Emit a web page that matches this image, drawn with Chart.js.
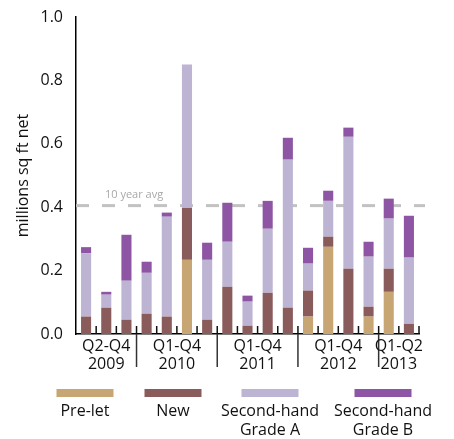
<!DOCTYPE html>
<html>
<head>
    <script src="https://cdn.jsdelivr.net/npm/chart.js"></script>
    <style>
        body { margin: 0; background: #fff; }
    </style>
</head>
<body>
    <canvas id="chart" width="454" height="439"></canvas>
<script>
    // quarterly take-up, millions sq ft net
    var quarters = ['Q2 2009', 'Q3 2009', 'Q4 2009',
        'Q1 2010', 'Q2 2010', 'Q3 2010', 'Q4 2010',
        'Q1 2011', 'Q2 2011', 'Q3 2011', 'Q4 2011',
        'Q1 2012', 'Q2 2012', 'Q3 2012', 'Q4 2012',
        'Q1 2013', 'Q2 2013'];
    var preLet   = [0, 0, 0, 0, 0, 0.234, 0, 0, 0, 0, 0, 0.055, 0.275, 0, 0.055, 0.133, 0];
    var newBuild = [0.055, 0.083, 0.045, 0.064, 0.055, 0.164, 0.045, 0.149, 0.026, 0.130, 0.083, 0.082, 0.032, 0.206, 0.031, 0.073, 0.032];
    var gradeA   = [0.200, 0.041, 0.123, 0.129, 0.315, 0.452, 0.189, 0.142, 0.076, 0.202, 0.467, 0.085, 0.113, 0.416, 0.158, 0.158, 0.209];
    var gradeB   = [0.019, 0.009, 0.145, 0.035, 0.013, 0, 0.054, 0.123, 0.019, 0.088, 0.069, 0.050, 0.032, 0.029, 0.047, 0.063, 0.132];

    var seriesNames = [['Pre-let'], ['New'], ['Second-hand', 'Grade A'], ['Second-hand', 'Grade B']];
    var seriesColors = ['#c8a673', '#8a5b5b', '#bdb3d2', '#8e55a4'];

    var yearLabels = [['Q2-Q4', '2009'], ['Q1-Q4', '2010'], ['Q1-Q4', '2011'], ['Q1-Q4', '2012'], ['Q1-Q2', '2013']];
    var yearSizes = [3, 4, 4, 4, 2];
    var avgValue = 0.405;

    var FONT = "'Open Sans', sans-serif";
    var INK = '#111';

    var extras = {
        id: 'extras',
        beforeDatasetsDraw: function (chart) {
            var ctx = chart.ctx, y = chart.scales.y, a = chart.chartArea;
            var py = y.getPixelForValue(avgValue);
            ctx.save();
            ctx.strokeStyle = '#c2c2c2';
            ctx.lineWidth = 3;
            ctx.setLineDash([13, 13]);
            ctx.beginPath();
            ctx.moveTo(a.left, py);
            ctx.lineTo(a.right + 6, py);
            ctx.stroke();
            ctx.fillStyle = '#a8a8a8';
            ctx.font = '11px ' + FONT;
            ctx.textAlign = 'left';
            ctx.textBaseline = 'bottom';
            ctx.fillText('10 year avg', a.left + 29, py - 5);
            ctx.restore();
        },
        afterDraw: function (chart) {
            var ctx = chart.ctx, x = chart.scales.x, a = chart.chartArea;
            var n = quarters.length;
            var step = x.getPixelForValue(1) - x.getPixelForValue(0);
            ctx.save();
            // small ticks between bars, pointing up
            ctx.strokeStyle = '#111';
            ctx.lineWidth = 1.5;
            for (var i = 0; i < n; i++) {
                var bx = x.getPixelForValue(i) + step / 2;
                ctx.beginPath();
                ctx.moveTo(bx, a.bottom);
                ctx.lineTo(bx, a.bottom - 8);
                ctx.stroke();
            }
            // year groups: separators and labels
            ctx.fillStyle = INK;
            ctx.font = '16px ' + FONT;
            ctx.textAlign = 'center';
            ctx.textBaseline = 'middle';
            var start = 0;
            yearSizes.forEach(function (size, g) {
                var end = start + size - 1;
                var cx = (x.getPixelForValue(start) + x.getPixelForValue(end)) / 2;
                ctx.fillText(yearLabels[g][0], cx, a.bottom + 12);
                ctx.fillText(yearLabels[g][1], cx, a.bottom + 30);
                if (g < yearSizes.length - 1) {
                    var sx = x.getPixelForValue(end) + step / 2;
                    ctx.strokeStyle = '#333';
                    ctx.beginPath();
                    ctx.moveTo(sx, a.bottom);
                    ctx.lineTo(sx, a.bottom + 33);
                    ctx.stroke();
                }
                start = end + 1;
            });
            // legend
            var cols = [85, 173, 270, 383];
            ctx.font = '16px ' + FONT;
            seriesNames.forEach(function (lines, k) {
                ctx.fillStyle = seriesColors[k];
                ctx.fillRect(cols[k] - 28.5, 389, 57, 8);
                ctx.fillStyle = INK;
                lines.forEach(function (t, j) {
                    ctx.fillText(t, cols[k], 411 + j * 19);
                });
            });
            ctx.restore();
        }
    };

    var seriesData = [preLet, newBuild, gradeA, gradeB];

    new Chart('chart', {
        type: 'bar',
        data: {
            labels: quarters,
            datasets: seriesData.map(function (d, k) {
                return {
                    label: seriesNames[k].join(' '),
                    data: d,
                    backgroundColor: seriesColors[k],
                    barPercentage: 0.5,
                    categoryPercentage: 1.0
                };
            })
        },
        options: {
            responsive: false,
            animation: false,
            layout: { padding: { top: 17, right: 35, left: 0, bottom: 0 } },
            plugins: { legend: { display: false }, tooltip: { enabled: false } },
            scales: {
                x: {
                    stacked: true,
                    grid: { display: false },
                    ticks: { display: false },
                    border: { color: '#000', width: 1.5 },
                    afterFit: function (s) { s.height = 105; }
                },
                y: {
                    stacked: true,
                    min: 0,
                    max: 1,
                    grid: { display: false },
                    border: { color: '#000', width: 1.5 },
                    ticks: {
                        stepSize: 0.2,
                        padding: 5,
                        color: INK,
                        font: { family: FONT, size: 16 },
                        callback: function (v) { return v.toFixed(1); }
                    },
                    title: {
                        display: true,
                        text: 'millions sq ft net',
                        color: INK,
                        font: { family: FONT, size: 16 },
                        padding: { top: 14, bottom: 0 }
                    },
                    afterFit: function (s) { s.width = 76; }
                }
            }
        },
        plugins: [extras]
    });
</script>
</body>
</html>
